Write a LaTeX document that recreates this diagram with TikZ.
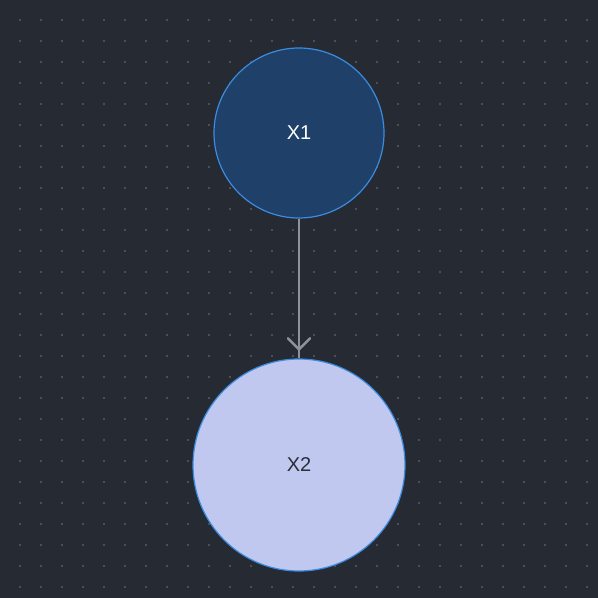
\documentclass[tikz,border=0pt]{standalone}
\usepackage{fontspec}
\setmainfont{Liberation Sans}
\definecolor{bgc}{HTML}{252A33}
\definecolor{dotc}{HTML}{4A4F58}
\definecolor{nodeA}{HTML}{1F4068}
\definecolor{nodeB}{HTML}{C0C8F0}
\definecolor{rim}{HTML}{3B8BE0}
\definecolor{edgec}{HTML}{8E939B}
\definecolor{txtB}{HTML}{2A2E36}
\begin{document}
\begin{tikzpicture}[x=1pt,y=-1pt,
  vertex/.style={circle,draw=rim,line width=1.2pt,inner sep=0pt,font=\fontsize{20}{22}\selectfont},
  link/.style={draw=edgec,line width=2.6pt},
  chev/.style={draw=edgec,line width=2.6pt,line cap=round,line join=round}]
\useasboundingbox (0,0) rectangle (598,598);
\fill[bgc] (0,0) rectangle (598,598);
\foreach \i in {0,...,27}{\foreach \j in {0,...,27}{
  \fill[dotc] ({20+21*\i-0.8},{20+21*\j-0.8}) rectangle ++(1.6,1.6);}}
\node[vertex,fill=nodeA,text=white,minimum size=170pt] (x1) at (299,133) {X1};
\node[vertex,fill=nodeB,text=txtB,minimum size=212pt] (x2) at (299,465) {X2};
\draw[link] (x1.south) -- (x2.north);
\coordinate (tip) at ([yshift=9pt]x2.north);
\draw[chev] ([xshift=-11pt,yshift=11pt]tip) -- (tip) -- ([xshift=11pt,yshift=11pt]tip);
\end{tikzpicture}
\end{document}
